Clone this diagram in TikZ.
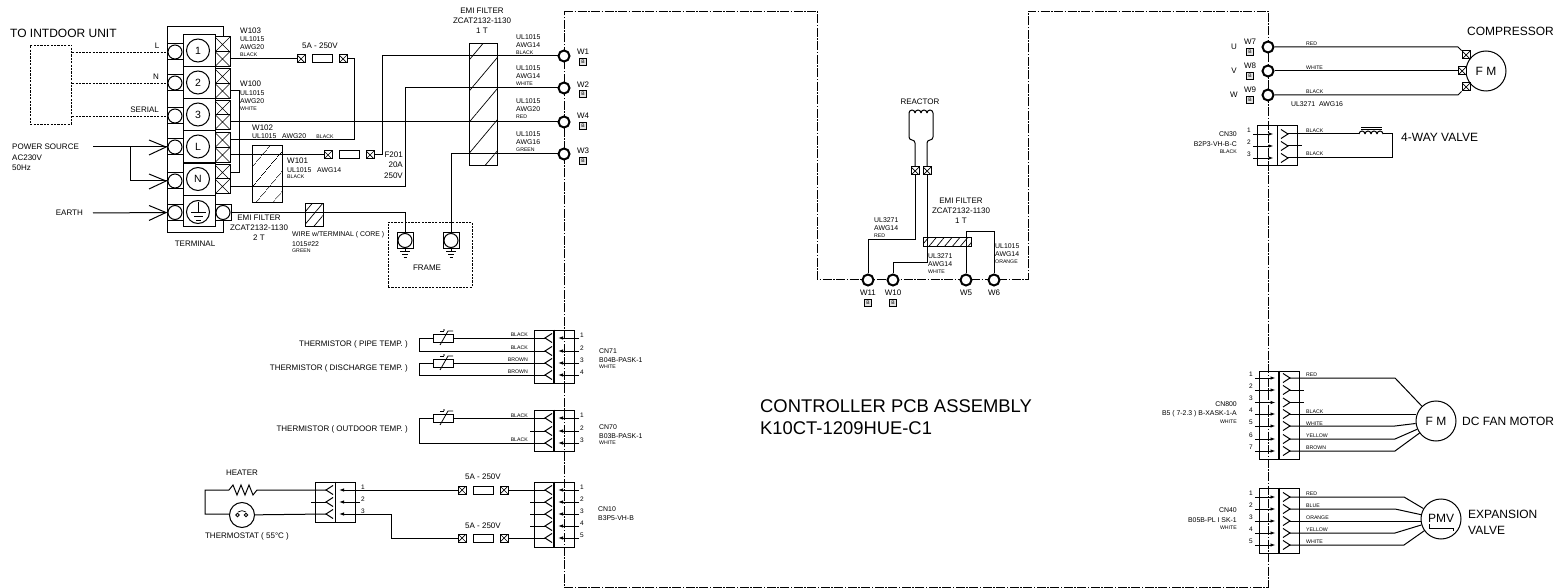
\documentclass[tikz,border=0pt]{standalone}
\usepackage{fontspec}
\setmainfont{Liberation Sans}
\usetikzlibrary{patterns.meta,arrows.meta}
\tikzset{
  wire/.style={line width=1pt,line join=miter},
  lab/.style={inner sep=0,font=\fontsize{8}{9}\selectfont},
  labs/.style={inner sep=0,font=\fontsize{6.9}{8}\selectfont},
  labt/.style={inner sep=0,font=\fontsize{5.2}{6}\selectfont},
  labn/.style={inner sep=0,font=\fontsize{6.5}{7}\selectfont},
  labm/.style={inner sep=0,font=\fontsize{12}{13}\selectfont},
  labb/.style={inner sep=0,font=\fontsize{18.4}{20}\selectfont},
  pcbline/.style={line width=.9pt,dash pattern=on 9pt off 1.5pt on 1.5pt off 1.5pt},
  dashline/.style={line width=.9pt,dash pattern=on 2.2pt off 1.2pt},
  ring/.style={circle,draw,line width=2pt,fill=white,minimum size=11pt,inner sep=0},
  tring/.style={circle,draw,line width=1pt,fill=white,minimum size=14pt,inner sep=0},
  numring/.style={circle,draw,line width=1pt,fill=white,minimum size=23pt,inner sep=0,font=\fontsize{10.5}{11}\selectfont},
  tbox/.style={rectangle,draw,line width=1pt,minimum size=16pt,inner sep=0},
  xbox/.style={rectangle,draw,line width=1pt,fill=white,inner sep=0,minimum size=#1,
    path picture={\draw[line width=.7pt] (path picture bounding box.north west) -- (path picture bounding box.south east)
      (path picture bounding box.north east) -- (path picture bounding box.south west);}},
  xbox/.default=8pt,
  fuse/.style={rectangle,draw,line width=1pt,minimum width=20pt,minimum height=8pt,inner sep=0},
  bbox/.style={rectangle,draw,line width=1pt,fill=gray!20,minimum size=7pt,inner sep=0,font=\fontsize{5}{5}\selectfont},
  cnbody/.style={rectangle,draw,line width=1pt,inner sep=0,minimum width=40pt},
  motor/.style={circle,draw,line width=1pt,fill=white,minimum size=40pt,inner sep=0,font=\fontsize{12}{13}\selectfont},
  hatch/.style={rectangle,draw,line width=1pt,inner sep=0,pattern={Lines[angle=50,distance=#1,line width=.7pt]}},
  pinto/.style={-{Latex[length=5pt,width=3.5pt]},line width=.9pt},
  pics/jackl/.style={code={
    \draw[wire] (7,-4.5) -- (0,0) -- (7,4.5);
    \coordinate (-tip) at (0,0);
    \coordinate (-end) at (34,0);
    \draw[pinto] (34,0) -- (13,0);
    \node[labn] (-num) at (37,-3) {#1};
  }},
  pics/jackr/.style={code={
    \draw[wire] (-7,-4.5) -- (0,0) -- (-7,4.5);
    \coordinate (-tip) at (0,0);
    \draw[pinto] (-35,0) -- (-14.5,0);
    \node[labn] (-num) at (-39,-4) {#1};
  }},
  pics/thermo/.style={code={
    \node[fuse] (-body) at (0,0) {};
    \draw[line width=.8pt] (-3,7) -- (5,-7) -- (10,-7);
    \draw[line width=.8pt] (-3,-7) -- (1,-7);
    \fill (1,-8) circle[radius=.9];
  }},
  pics/gnd/.style={code={
    \draw[line width=.9pt] (-5,0) -- (5,0) (-3,3) -- (3,3) (-1.5,6) -- (1.5,6);
  }},
  pics/inarrow/.style={code={
    \draw[line width=1pt] (-17,-7) -- (0,0) -- (-17,8);
  }},
}
\begin{document}
\begin{tikzpicture}[x=1pt,y=-1pt]
\useasboundingbox (0,0) rectangle (1559,588);
\draw[pcbline] (564,11) -- (817,11) -- (817,279) -- (1028,279) -- (1028,11) -- (1268,11) -- (1268,587) -- (564,587) -- cycle;
\node[labm,anchor=west] (indoorlab) at (10,33) {TO INTDOOR UNIT};
\node[rectangle,dashline,draw,minimum width=41.5pt,minimum height=79pt,inner sep=0] (indoor) at (51,84.5) {};
\node[lab] (lL) at (157,46) {L};
\node[lab] (lN) at (156,77) {N};
\node[lab,anchor=east] (lS) at (159,110) {SERIAL};
\node[lab,anchor=west] (pw1) at (12,147) {POWER SOURCE};
\node[lab,anchor=west] (pw2) at (12,157.5) {AC230V};
\node[lab,anchor=west] (pw3) at (12,168) {50Hz};
\node[lab,anchor=east] (earthlab) at (83,213) {EARTH};
\node[lab] (termlab) at (195,244) {TERMINAL};
\draw[wire] (167,233) -- (167,27) -- (223,27) -- (223,37);
\draw[wire] (167,233) -- (223,233) -- (223,221);
\foreach \n/\t/\y/\b in {1/1/51/52,2/2/83/83,3/3/115/116,4/L/147/147,5/N/179.5/181}{
\node[rectangle,draw,line width=1pt,minimum width=32pt,minimum height=32pt,inner sep=0] (cell\n) at (199,\y) {};
\node[numring] (num\n) at (198,\y-.5) {\t};
\node[tbox] (tb\n) at (175,\b) {};
\node[tring] (tr\n) at (175,\b) {};
}
\node[rectangle,draw,line width=1pt,minimum width=32pt,minimum height=31pt,inner sep=0] (cell6) at (199,211.5) {};
\node[numring] (num6) at (198,212) {};
\draw[line width=.9pt] (198.5,202) -- (198.5,212);
\pic[scale=1.45] (tgnd) at (198.5,212) {gnd};
\node[tbox] (tb6) at (175,212.5) {};
\node[tring] (tr6) at (175,212.5) {};
\node[tbox] (tbe) at (223,212.5) {};
\node[tring] (tre) at (223,212.5) {};
\foreach \n/\y in {1a/44.5,1b/59,2a/76.5,2b/91,3a/108.5,3b/122,4a/140,4b/155,5a/172.5,5b/186.5}
\node[xbox=15pt] (tx\n) at (222.5,\y) {};
\draw[dashline] (indoor.east |- tb1) -- (tb1);
\draw[dashline] (indoor.east |- tb2) -- (tb2);
\draw[dashline] (indoor.east |- tb3) -- (tb3);
\coordinate (pwend) at (93,147);
\coordinate (eaend) at (93,213);
\coordinate (pwtee) at (130,147);
\draw[wire] (pwend) -- (tb4.west);
\draw[wire] (pwtee) |- (tb5.west);
\draw[wire] (eaend) -- (tb6.west);
\pic at (166,147) {inarrow};
\pic at (166,181) {inarrow};
\pic at (166,212.5) {inarrow};
\node[hatch=13pt,minimum width=30pt,minimum height=57pt] (emi2) at (267,174.5) {};
\node[hatch=8pt,minimum width=18pt,minimum height=23pt] (emi3) at (314,215.5) {};
\node[hatch=20pt,minimum width=28pt,minimum height=122pt] (emi1) at (483,105) {};
\node[xbox] (fa1) at (301,59) {};
\node[fuse] (fa) at (322,59) {};
\node[xbox] (fa2) at (343,59) {};
\node[xbox] (fb1) at (328,155) {};
\node[fuse] (fb) at (349,155) {};
\node[xbox] (fb2) at (370,155) {};
\foreach \n/\y/\t/\v in {1/56/52/62,2/88/85/94,4/122/116/126,3/154/151/161}{
\node[ring] (w\n) at (564,\y) {};
\node[lab] (wl\n) at (583,\t) {W\n};
\node[bbox] (wb\n) at (583,\v) {B};
}
\node[rectangle,draw,line width=1pt,minimum size=16pt,inner sep=0] (frbox1) at (405,240.5) {};
\node[tring] (fr1) at (405,240.5) {};
\node[rectangle,draw,line width=1pt,minimum size=16pt,inner sep=0] (frbox2) at (451,240.5) {};
\node[tring] (fr2) at (451,240.5) {};
\draw[wire] (frbox1) -- ++(0,9.5) (frbox2) -- ++(0,9.5);
\draw[line width=.9pt] (405,248.5) -- (405,251) (451,248.5) -- (451,251);
\pic (g1) at (405,251) {gnd};
\pic (g2) at (451,251) {gnd};
\node[rectangle,dashline,draw,minimum width=84pt,minimum height=65pt,inner sep=0] (frame) at (430,254.5) {};
\node[lab] (framelab) at (427,268) {FRAME};
\coordinate (bend1) at (354,140);
\coordinate (bend2) at (239,172.5);
\coordinate (bend3) at (382,155);
\coordinate (bend4) at (405,186.5);
\draw[wire] (tx1b) -- (fa1);
\draw[wire] (fa2) -| (bend1) -- (tx4a);
\draw[wire] (tx2b) -| (bend2) -- (tx5a);
\draw[wire] (tx3b) -- (w4);
\draw[wire] (tx4b) -- (fb1);
\draw[wire] (fb2) -- (bend3) |- (w1);
\draw[wire] (tx5b) -- (bend4) |- (w2);
\draw[wire] (frbox2) |- (w3);
\draw[wire] (tre) -| (frbox1);
\foreach \n/\x/\y/\a/\b/\c in {a/240/39/UL1015/AWG20/BLACK,b/240/93/UL1015/AWG20/WHITE,c/516/37/UL1015/AWG14/BLACK,d/516/68/UL1015/AWG14/WHITE,e/516/101/UL1015/AWG20/RED,f/516/134/UL1015/AWG16/GREEN,g/874/220/UL3271/AWG14/RED,h/928/256/UL3271/AWG14/WHITE,i/995/246/UL1015/AWG14/ORANGE}{
\node[labs,anchor=west] (tag\n a) at (\x,\y) {\a};
\node[labs,anchor=west] (tag\n b) at (\x,\y+8.5) {\b};
\node[labt,anchor=west] (tag\n c) at (\x,\y+15.5) {\c};
}
\node[lab,anchor=west] (w103) at (240,30.5) {W103};
\node[lab,anchor=west] (w100) at (240,84) {W100};
\node[lab,anchor=west] (w102) at (252,128) {W102};
\node[labs,anchor=west] (w102a) at (252,136.5) {UL1015};
\node[labs,anchor=west] (w102b) at (282,136.5) {AWG20};
\node[labt] (w102c) at (325,137) {BLACK};
\node[lab,anchor=west] (w101) at (287,161) {W101};
\node[labs,anchor=west] (w101a) at (287,170.5) {UL1015};
\node[labs,anchor=west] (w101b) at (317,170.5) {AWG14};
\node[labt,anchor=west] (w101c) at (287,177) {BLACK};
\node[lab] (fa5) at (320,46) {5A - 250V};
\node[lab,anchor=east] (f201a) at (403,155) {F201};
\node[lab,anchor=east] (f201b) at (403,165) {20A};
\node[lab,anchor=east] (f201c) at (403,175.5) {250V};
\node[lab] (emi1a) at (482,11) {EMI FILTER};
\node[lab] (emi1b) at (482,21) {ZCAT2132-1130};
\node[lab] (emi1c) at (482,31) {1 T};
\node[lab] (emi2a) at (259,218) {EMI FILTER};
\node[lab] (emi2b) at (259,228) {ZCAT2132-1130};
\node[lab] (emi2c) at (259,238) {2 T};
\node[labs,anchor=west] (core1) at (292,234.5) {WIRE w/TERMINAL ( CORE )};
\node[labs,anchor=west] (core2) at (292,244) {1015\#22};
\node[labt,anchor=west] (core3) at (292,251) {GREEN};
\node[cnbody,minimum height=53pt] (cn71) at (554,356.5) {};
\draw[line width=1.2pt] (cn71.north) -- (cn71.south);
\foreach \n/\y in {1/338,2/351,3/363,4/375}
\pic (pa\n) at (545,\y) {jackl=\n};
\node[cnbody,minimum height=41pt] (cn70) at (554,430.5) {};
\draw[line width=1.2pt] (cn70.north) -- (cn70.south);
\foreach \n/\y in {1/418,2/431,3/443}
\pic (pb\n) at (545,\y) {jackl=\n};
\node[cnbody,minimum height=65pt] (cn10) at (554,514.5) {};
\draw[line width=1.2pt] (cn10.north) -- (cn10.south);
\foreach \n/\y in {1/490,2/502,3/514,4/526,5/538}
\pic (pc\n) at (545,\y) {jackl=\n};
\node[cnbody,minimum height=40pt] (cnh) at (335.5,502) {};
\draw[line width=1.2pt] (cnh.north) -- (cnh.south);
\foreach \n/\y in {1/490,2/502,3/514}
\pic (pd\n) at (326,\y) {jackl=\n};
\pic (t1) at (443,338) {thermo};
\pic (t2) at (443,363) {thermo};
\pic (t3) at (443,418) {thermo};
\coordinate (lp1) at (419,351);
\coordinate (lp2) at (419,375);
\coordinate (lp3) at (419,443);
\draw[wire] (pa1-tip) -- (t1-body);
\draw[wire] (t1-body) -| (lp1) -- (pa2-tip);
\draw[wire] (pa3-tip) -- (t2-body);
\draw[wire] (t2-body) -| (lp2) -- (pa4-tip);
\draw[wire] (pb1-tip) -- (t3-body);
\draw[wire] (t3-body) -| (lp3) -- (pb3-tip);
\draw[wire] (pb2-tip) -- ++(-15,0);
\draw[wire] (pc2-tip) -- ++(-15,0) (pc3-tip) -- ++(-15,0) (pc4-tip) -- ++(-15,0);
\draw[wire] (pd2-tip) -- ++(-15,0);
\node[lab,anchor=east] (th1) at (408,344) {THERMISTOR ( PIPE TEMP. )};
\node[lab,anchor=east] (th2) at (408,368) {THERMISTOR ( DISCHARGE TEMP. )};
\node[lab,anchor=east] (th3) at (408,429) {THERMISTOR ( OUTDOOR TEMP. )};
\foreach \n/\x/\y/\t in {1/528/334.5/BLACK,2/528/347.5/BLACK,3/528/359.5/BROWN,4/528/371.5/BROWN,5/528/416/BLACK,6/528/440/BLACK}
\node[labt,anchor=east] (col\n) at (\x,\y) {\t};
\foreach \n/\y/\a/\b/\c in {71/351/CN71/B04B-PASK-1/WHITE,70/427/CN70/B03B-PASK-1/WHITE}{
\node[labs,anchor=west] (cl\n a) at (599,\y) {\a};
\node[labs,anchor=west] (cl\n b) at (599,\y+9) {\b};
\node[labt,anchor=west] (cl\n c) at (599,\y+16) {\c};
}
\node[labs,anchor=west] (cl10a) at (598,509) {CN10};
\node[labs,anchor=west] (cl10b) at (598,518) {B3P5-VH-B};
\node[xbox] (fc1) at (462,490) {};
\node[fuse] (fc) at (483,490) {};
\node[xbox] (fc2) at (504,490) {};
\node[xbox] (fd1) at (462,538) {};
\node[fuse] (fd) at (483,538) {};
\node[xbox] (fd2) at (504,538) {};
\node[lab] (fc5) at (483,477) {5A - 250V};
\node[lab] (fd5) at (483,526) {5A - 250V};
\coordinate (lp4) at (391,514);
\draw[wire] (pd1-end) -- (fc1);
\draw[wire] (fc2) -- (pc1-tip);
\draw[wire] (pd3-end) -- (lp4) |- (fd1);
\draw[wire] (fd2) -- (pc5-tip);
\node[circle,draw,line width=1pt,minimum size=25pt,inner sep=0] (stat) at (242,515) {};
\draw[line width=.9pt] (237.5,515) circle[radius=1.7] (246,515) circle[radius=1.7];
\draw[line width=.7pt] (238,512) to[bend left=35] (246,512);
\coordinate (hr1) at (229,490);
\coordinate (hr2) at (257,490);
\coordinate (hl1) at (205,490);
\coordinate (hl2) at (205,514);
\draw[wire] (pd1-tip) -- (hr2) -- (253,495) -- (249,485) -- (245,495) -- (241,485) -- (237,495) -- (233,485) -- (hr1) -- (hl1) -- (hl2) -- (stat.west |- hl2);
\draw[wire] (stat) -- (pd3-tip);
\node[lab] (heat) at (242,473) {HEATER};
\node[lab] (thermostat) at (247,536) {THERMOSTAT ( 55°C )};
\node[labb,anchor=west] (pcb1) at (760,406) {CONTROLLER PCB ASSEMBLY};
\node[labb,anchor=west] (pcb2) at (760,428) {K10CT-1209HUE-C1};
\node[lab] (reactlab) at (920,102) {REACTOR};
\foreach \k in {0,1,2,3}
\draw[wire] (909+6*\k,113) arc[start angle=180,end angle=360,radius=3];
\node[xbox] (xr1) at (915,171) {};
\node[xbox] (xr2) at (927,171) {};
\node[ring] (w11) at (868,280) {};
\node[ring] (w10) at (893,280) {};
\node[ring] (w5) at (966,280) {};
\node[ring] (w6) at (994,280) {};
\foreach \n/\x in {11/868,10/893,5/966,6/994}
\node[lab] (wl\n) at (\x,293) {W\n};
\node[bbox] (wb11) at (868,303) {B};
\node[bbox] (wb10) at (893,303) {B};
\coordinate (rc1) at (868,240);
\coordinate (rc2) at (893,263);
\coordinate (rc3) at (994,232);
\draw[wire,rounded corners=3pt] (909,113) -- (909,140) -- (915,140) -- (xr1);
\draw[wire,rounded corners=3pt] (933,113) -- (933,140) -- (927,140) -- (xr2);
\draw[wire] (xr1) |- (rc1) -- (w11);
\draw[wire] (xr2) |- (rc2) -- (w10);
\draw[wire] (w5) |- (rc3) -- (w6);
\node[hatch=6pt,minimum width=48pt,minimum height=9pt] (emi4) at (947,242.5) {};
\node[lab] (emi4a) at (961,201) {EMI FILTER};
\node[lab] (emi4b) at (961,211) {ZCAT2132-1130};
\node[lab] (emi4c) at (961,221) {1 T};
\foreach \n/\u/\y/\t/\v in {7/U/47/42/52,8/V/71/66/76,9/W/95/90/100}{
\node[ring] (w\n) at (1268,\y) {};
\node[lab] (wu\n) at (1234,\y) {\u};
\node[lab] (wl\n) at (1250,\t) {W\n};
\node[bbox] (wb\n) at (1250,\v) {B};
}
\node[motor] (comp) at (1486,71) {F M};
\node[xbox] (xm1) at (1466,55) {};
\node[xbox] (xm2) at (1462,71) {};
\node[xbox] (xm3) at (1466,87) {};
\coordinate (mb1) at (1458,47);
\coordinate (mb3) at (1458,95);
\draw[wire] (w7) -- (mb1) -- (xm1);
\draw[wire] (w8) -- (xm2);
\draw[wire] (w9) -- (mb3) -- (xm3);
\node[labm,anchor=west] (complab) at (1467,31) {COMPRESSOR};
\node[labs] (ulwire) at (1317,104) {UL3271\ \ AWG16};
\node[cnbody,minimum height=40pt] (cn30) at (1277.5,146) {};
\draw[line width=1.2pt] (cn30.north) -- (cn30.south);
\foreach \n/\y in {1/134,2/146,3/158}
\pic (pe\n) at (1288,\y) {jackr=\n};
\foreach \k in {0,1,2,3}
\draw[wire] (1359+6*\k,134) arc[start angle=180,end angle=360,radius=3];
\draw[line width=.9pt] (1361,127.5) -- (1382,127.5) (1361,129.5) -- (1382,129.5);
\coordinate (cl1) at (1359,134);
\coordinate (cl2) at (1383,134);
\coordinate (cl3) at (1392,158);
\draw[wire] (pe1-tip) -- (cl1);
\draw[wire] (cl2) -| (cl3) -- (pe3-tip);
\draw[wire] (pe2-tip) -- ++(14,0);
\node[labm,anchor=west] (waylab) at (1401,137) {4-WAY VALVE};
\foreach \n/\y/\a/\b/\c in {30/134/CN30/B2P3-VH-B-C/BLACK,800/404/CN800/B5 ( 7-2.3 ) B-XASK-1-A/WHITE,40/510/CN40/B05B-PL I SK-1/WHITE}{
\node[labs,anchor=east] (cr\n a) at (1237,\y) {\a};
\node[labs,anchor=east] (cr\n b) at (1237,\y+10) {\b};
\node[labt,anchor=east] (cr\n c) at (1237,\y+18) {\c};
}
\node[cnbody,minimum height=88pt] (cn800) at (1279,415) {};
\draw[line width=1.2pt] (cn800.north) -- (cn800.south);
\foreach \n/\y in {1/378,2/390,3/402.5,4/414,5/426,6/439,7/451}
\pic (pf\n) at (1290,\y) {jackr=\n};
\node[motor] (fan) at (1436,421) {F M};
\coordinate (fb1b) at (1395,378);
\coordinate (fb5) at (1395,426);
\coordinate (fb6) at (1395,439);
\coordinate (fb7) at (1395,451);
\draw[wire] (pf1-tip) -- (fb1b) -- (fan);
\draw[wire] (pf2-tip) -- ++(14,0) (pf3-tip) -- ++(14,0);
\draw[wire] (pf4-tip) -- (pf4-tip -| fan.west);
\draw[wire] (pf5-tip) -- (fb5) -- (fan);
\draw[wire] (pf6-tip) -- (fb6) -- (fan);
\draw[wire] (pf7-tip) -- (fb7) -- (fan);
\node[labm,anchor=west] (fanlab) at (1462,421) {DC FAN MOTOR};
\node[cnbody,minimum height=65pt] (cn40) at (1279,520.5) {};
\draw[line width=1.2pt] (cn40.north) -- (cn40.south);
\foreach \n/\y in {1/497,2/509,3/521,4/533,5/545}
\pic (pg\n) at (1290,\y) {jackr=\n};
\node[motor] (pmv) at (1441,519) {};
\node[labm] (pmvlab) at (1441,518) {PMV};
\draw[line width=.8pt] (1429,524) -- (1429,528) -- (1453,528) -- (1453,531);
\coordinate (gb1) at (1404,497);
\coordinate (gb2) at (1395,509);
\coordinate (gb4) at (1395,533);
\coordinate (gb5) at (1404,545);
\draw[wire] (pg1-tip) -- (gb1) -- (pmv);
\draw[wire] (pg2-tip) -- (gb2) -- (pmv);
\draw[wire] (pg3-tip) -- (pg3-tip -| pmv.west);
\draw[wire] (pg4-tip) -- (gb4) -- (pmv);
\draw[wire] (pg5-tip) -- (gb5) -- (pmv);
\node[labm,anchor=west] (expa) at (1468,514) {EXPANSION};
\node[labm,anchor=west] (expb) at (1468,530) {VALVE};
\foreach \n/\y/\t in {1/44/RED,2/68/WHITE,3/92/BLACK,4/131/BLACK,5/154/BLACK,6/375/RED,7/412/BLACK,8/424/WHITE,9/436/YELLOW,10/448/BROWN,11/494/RED,12/506/BLUE,13/518/ORANGE,14/530/YELLOW,15/542/WHITE}
\node[labt,anchor=west] (cor\n) at (1306,\y) {\t};
\end{tikzpicture}
\end{document}
